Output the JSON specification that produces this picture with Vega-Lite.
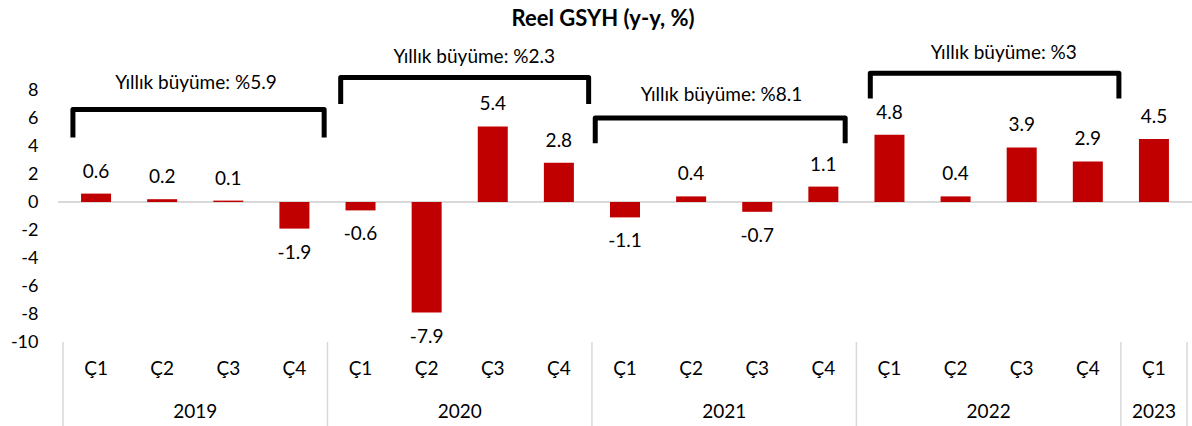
{
  "$schema": "https://vega.github.io/schema/vega-lite/v6.json",
  "autosize": {"type": "none"},
  "width": 1134,
  "height": 294,
  "padding": {"top": 48, "left": 58, "right": 0, "bottom": 84},
  "background": "white",
  "title": {"text": "Reel GSYH (y-y, %)", "font": "Lato", "fontSize": 22, "fontWeight": "bold", "color": "#000000", "anchor": "middle", "frame": "group", "baseline": "bottom", "offset": 12, "dy": 21, "dx": -22},
  "config": {"view": {"stroke": null}},
  "datasets": {
    "bars": [
      {"i": 0, "year": "2019", "q": "Ç1", "v": 0.6},
      {"i": 1, "year": "2019", "q": "Ç2", "v": 0.2},
      {"i": 2, "year": "2019", "q": "Ç3", "v": 0.1},
      {"i": 3, "year": "2019", "q": "Ç4", "v": -1.9},
      {"i": 4, "year": "2020", "q": "Ç1", "v": -0.6},
      {"i": 5, "year": "2020", "q": "Ç2", "v": -7.9},
      {"i": 6, "year": "2020", "q": "Ç3", "v": 5.4},
      {"i": 7, "year": "2020", "q": "Ç4", "v": 2.8},
      {"i": 8, "year": "2021", "q": "Ç1", "v": -1.1},
      {"i": 9, "year": "2021", "q": "Ç2", "v": 0.4},
      {"i": 10, "year": "2021", "q": "Ç3", "v": -0.7},
      {"i": 11, "year": "2021", "q": "Ç4", "v": 1.1},
      {"i": 12, "year": "2022", "q": "Ç1", "v": 4.8},
      {"i": 13, "year": "2022", "q": "Ç2", "v": 0.4},
      {"i": 14, "year": "2022", "q": "Ç3", "v": 3.9},
      {"i": 15, "year": "2022", "q": "Ç4", "v": 2.9},
      {"i": 16, "year": "2023", "q": "Ç1", "v": 4.5}
    ],
    "seps": [{"b": -0.5}, {"b": 3.5}, {"b": 7.5}, {"b": 11.5}, {"b": 15.5}, {"b": 16.5}],
    "brackets": [
      {"g": "2019", "o": 1, "x": -0.35, "y": 4.6},
      {"g": "2019", "o": 2, "x": -0.35, "y": 6.6},
      {"g": "2019", "o": 3, "x": 3.45, "y": 6.6},
      {"g": "2019", "o": 4, "x": 3.45, "y": 4.6},
      {"g": "2020", "o": 1, "x": 3.7, "y": 7.0},
      {"g": "2020", "o": 2, "x": 3.7, "y": 8.9},
      {"g": "2020", "o": 3, "x": 7.45, "y": 8.9},
      {"g": "2020", "o": 4, "x": 7.45, "y": 7.0},
      {"g": "2021", "o": 1, "x": 7.55, "y": 4.2},
      {"g": "2021", "o": 2, "x": 7.55, "y": 6.0},
      {"g": "2021", "o": 3, "x": 11.33, "y": 6.0},
      {"g": "2021", "o": 4, "x": 11.33, "y": 4.2},
      {"g": "2022", "o": 1, "x": 11.71, "y": 7.4},
      {"g": "2022", "o": 2, "x": 11.71, "y": 9.2},
      {"g": "2022", "o": 3, "x": 15.47, "y": 9.2},
      {"g": "2022", "o": 4, "x": 15.47, "y": 7.4}
    ],
    "notes": [
      {"t": "Yıllık büyüme: %5.9", "x": 1.51, "y": 8.5},
      {"t": "Yıllık büyüme: %2.3", "x": 5.72, "y": 10.36},
      {"t": "Yıllık büyüme: %8.1", "x": 9.46, "y": 7.64},
      {"t": "Yıllık büyüme: %3", "x": 13.73, "y": 10.64}
    ]
  },
  "layer": [
    {
      "data": {"name": "bars"},
      "mark": {"type": "rule", "color": "#d9d9d9", "strokeWidth": 1.5},
      "encoding": {
        "y": {"datum": 0, "type": "quantitative", "scale": {"domain": [-10, 11], "nice": false, "zero": false},
          "axis": {"values": [-10, -8, -6, -4, -2, 0, 2, 4, 6, 8], "tickCount": 20, "labelExpr": "datum.value + ''", "labelOverlap": false, "labelBound": false, "grid": false, "domain": false, "ticks": false, "labelFont": "Lato", "labelFontSize": 18, "labelColor": "#000000", "labelPadding": 20, "title": null}}
      }
    },
    {
      "data": {"name": "seps"},
      "mark": {"type": "rule", "color": "#d9d9d9", "strokeWidth": 1.5},
      "encoding": {
        "x": {"field": "b", "type": "quantitative", "scale": {"domain": [-0.5, 16.5], "nice": false, "zero": false}, "axis": null},
        "y": {"datum": -10, "type": "quantitative"},
        "y2": {"datum": -16}
      }
    },
    {
      "data": {"name": "bars"},
      "mark": {"type": "bar", "color": "#C00000", "width": 30},
      "encoding": {
        "x": {"field": "i", "type": "quantitative"},
        "y": {"field": "v", "type": "quantitative"},
        "y2": {"datum": 0}
      }
    },
    {
      "data": {"name": "bars"},
      "transform": [{"filter": "datum.v >= 0"}],
      "mark": {"type": "text", "font": "Lato", "fontSize": 19, "color": "#000000", "baseline": "middle", "dy": -22},
      "encoding": {
        "x": {"field": "i", "type": "quantitative"},
        "y": {"field": "v", "type": "quantitative"},
        "text": {"field": "v", "type": "nominal"}
      }
    },
    {
      "data": {"name": "bars"},
      "transform": [{"filter": "datum.v < 0"}],
      "mark": {"type": "text", "font": "Lato", "fontSize": 19, "color": "#000000", "baseline": "middle", "dy": 24},
      "encoding": {
        "x": {"field": "i", "type": "quantitative"},
        "y": {"field": "v", "type": "quantitative"},
        "text": {"field": "v", "type": "nominal"}
      }
    },
    {
      "data": {"name": "bars"},
      "mark": {"type": "text", "font": "Lato", "fontSize": 19, "color": "#000000", "baseline": "middle"},
      "encoding": {
        "x": {"field": "i", "type": "quantitative"},
        "y": {"datum": -11.9, "type": "quantitative"},
        "text": {"field": "q", "type": "nominal"}
      }
    },
    {
      "data": {"name": "bars"},
      "transform": [{"aggregate": [{"op": "mean", "field": "i", "as": "c"}], "groupby": ["year"]}],
      "mark": {"type": "text", "font": "Lato", "fontSize": 19, "color": "#000000", "baseline": "middle"},
      "encoding": {
        "x": {"field": "c", "type": "quantitative"},
        "y": {"datum": -15.0, "type": "quantitative"},
        "text": {"field": "year", "type": "nominal"}
      }
    },
    {
      "data": {"name": "brackets"},
      "mark": {"type": "line", "color": "#000000", "strokeWidth": 5, "strokeJoin": "round", "strokeCap": "butt"},
      "encoding": {
        "x": {"field": "x", "type": "quantitative"},
        "y": {"field": "y", "type": "quantitative"},
        "detail": {"field": "g", "type": "nominal"},
        "order": {"field": "o", "type": "quantitative"}
      }
    },
    {
      "data": {"name": "notes"},
      "mark": {"type": "text", "font": "Lato", "fontSize": 19, "color": "#000000", "baseline": "middle"},
      "encoding": {
        "x": {"field": "x", "type": "quantitative"},
        "y": {"field": "y", "type": "quantitative"},
        "text": {"field": "t", "type": "nominal"}
      }
    }
  ]
}
